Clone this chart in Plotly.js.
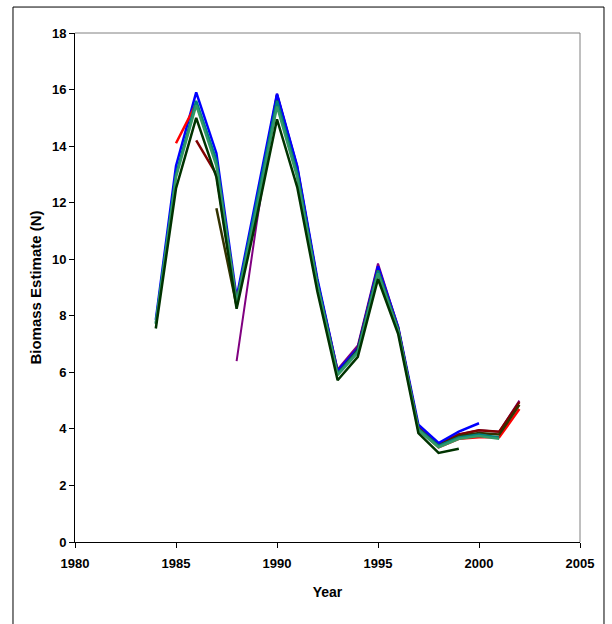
<!DOCTYPE html>
<html>
<head>
<meta charset="utf-8">
<script src="https://cdn.plot.ly/plotly-3.0.1.min.js"></script>
<style>html,body{margin:0;padding:0;background:#fff;}#chart{width:612px;height:624px;}</style>
</head>
<body>
<div id="chart"></div>
<script>
// Year ranges and biomass values per retrospective run
const yearsBlue = [1984,1985,1986,1987,1988,1989,1990,1991,1992,1993,1994,1995,1996,1997,1998,1999,2000];
const blue      = [7.85,13.3,15.9,13.75,8.65,12.2,15.85,13.3,9.3,6.05,6.85,9.75,7.6,4.15,3.5,3.9,4.2];

const yearsTeal = [1984,1985,1986,1987,1988,1989,1990,1991,1992,1993,1994,1995,1996,1997,1998,1999,2000,2001];
const teal      = [7.75,13.0,15.6,13.5,8.5,12.0,15.6,13.05,9.15,5.95,6.75,9.6,7.5,4.0,3.4,3.7,3.8,3.7];

const yearsGreen = [1984,1985,1986,1987,1988,1989,1990,1991,1992,1993,1994,1995,1996,1997,1998,1999,2000,2001];
const green      = [7.7,12.9,15.45,13.3,8.45,11.8,15.4,12.9,9.05,5.9,6.7,9.5,7.45,3.95,3.35,3.65,3.75,3.65];

const yearsDark = [1984,1985,1986,1987,1988,1989,1990,1991,1992,1993,1994,1995,1996,1997,1998,1999];
const darkGreen = [7.55,12.5,15.0,12.9,8.25,11.5,14.95,12.55,8.85,5.72,6.55,9.3,7.35,3.85,3.15,3.3];

const yearsRed = [1985,1986,1987,1988,1989,1990,1991,1992,1993,1994,1995,1996,1997,1998,1999,2000,2001,2002];
const red      = [14.1,15.5,13.4,8.5,11.9,15.5,13.0,9.1,5.95,6.75,9.6,7.5,4.0,3.35,3.65,3.7,3.7,4.7];

const yearsMaroon = [1986,1987,1988,1989,1990,1991,1992,1993,1994,1995,1996,1997,1998,1999,2000,2001,2002];
const maroon      = [14.2,13.0,8.4,12.0,15.8,13.2,9.2,6.0,6.85,9.7,7.55,4.05,3.45,3.8,3.95,3.9,4.95];

const yearsOlive = [1987,1988,1989,1990,1991,1992,1993,1994,1995,1996,1997,1998,1999,2000,2001,2002];
const olive      = [11.8,8.35,11.9,15.6,13.0,9.1,5.95,6.8,9.6,7.5,4.0,3.4,3.75,3.85,3.8,4.85];

const yearsPurple = [1988,1989,1990,1991,1992,1993,1994,1995,1996,1997,1998,1999,2000,2001,2002];
const purple      = [6.4,11.3,15.85,13.3,9.25,6.1,6.95,9.85,7.6,4.05,3.45,3.8,3.95,3.9,5.0];

const xTickVals = [1980,1985,1990,1995,2000,2005];
const yTickVals = [0,2,4,6,8,10,12,14,16,18];

function tr(x, y, color, width) {
  return {x: x, y: y, type: 'scatter', mode: 'lines',
          line: {color: color, width: width}, hoverinfo: 'skip', showlegend: false};
}

const data = [
  tr(yearsPurple, purple, '#800080', 2),
  tr(yearsMaroon, maroon, '#800000', 2.5),
  tr(yearsBlue, blue, '#0000FF', 2.5),
  tr(yearsRed, red, '#FF0000', 2.5),
  tr(yearsOlive, olive, '#333300', 2.5),
  tr(yearsTeal, teal, '#008080', 2.5),
  tr(yearsGreen, green, '#339966', 2.5),
  tr(yearsDark, darkGreen, '#003300', 2.5)
];

const fam = 'Liberation Sans, Arial, sans-serif';

const layout = {
  width: 612, height: 624,
  margin: {l: 75, r: 32, t: 33, b: 82},
  paper_bgcolor: '#fff', plot_bgcolor: '#fff',
  font: {family: fam, size: 12, color: '#000'},
  showlegend: false,
  xaxis: {
    range: [1980, 2005], tickvals: xTickVals, ticktext: xTickVals.map(String),
    showgrid: false, zeroline: false, showline: true, linecolor: '#000', linewidth: 1,
    ticks: 'outside', ticklen: 5, tickcolor: '#000', ticklabelstandoff: 4,
    tickfont: {family: fam, size: 13, color: '#000', weight: 'bold'},
    title: {text: '<b>Year</b>', font: {family: fam, size: 14, color: '#000'}, standoff: 17}
  },
  yaxis: {
    range: [0, 18], tickvals: yTickVals, ticktext: yTickVals.map(String),
    showgrid: false, zeroline: false, showline: true, linecolor: '#000', linewidth: 1,
    ticks: 'outside', ticklen: 5, tickcolor: '#000', ticklabelstandoff: 0,
    tickfont: {family: fam, size: 13, color: '#000', weight: 'bold'},
    title: {text: '<b>Biomass Estimate (N)</b>', font: {family: fam, size: 15, color: '#000'}, standoff: 6}
  },
  shapes: [
    {type: 'line', xref: 'paper', yref: 'paper', x0: 0, x1: 1, y0: 1, y1: 1, line: {color: '#808080', width: 1}},
    {type: 'line', xref: 'paper', yref: 'paper', x0: 1, x1: 1, y0: 0, y1: 1, line: {color: '#808080', width: 1}},
    {type: 'rect', xref: 'paper', yref: 'paper', x0: -0.1228, x1: 1.0475, y0: -0.25, y1: 1.051,
     line: {color: '#000', width: 1}, fillcolor: 'rgba(0,0,0,0)', layer: 'below'}
  ]
};

Plotly.newPlot('chart', data, layout, {displayModeBar: false, staticPlot: true});
</script>
</body>
</html>
